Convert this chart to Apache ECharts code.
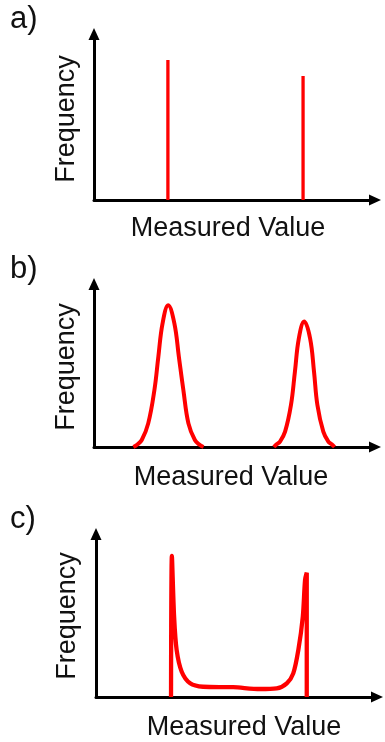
<!DOCTYPE html>
<html>
<head>
<meta charset="utf-8">
<script src="https://cdn.jsdelivr.net/npm/echarts@6/dist/echarts.min.js"></script>
<style>
  html, body { margin: 0; padding: 0; background: #fff; }
  #chart { width: 385px; height: 742px; }
</style>
</head>
<body>
<div id="chart"></div>
<script>
// a) two sharp lines: [x, height]
var linesA = [[26.3, 84.3], [74.4, 74.7]];

// b) two peaks
var peak1X = [14.0, 15.2, 17.0, 19.3, 21.5, 22.9, 24.4, 26.4, 28.6, 30.2, 31.8, 33.6, 35.9, 37.7, 39.0];
var peak1Y = [0, 1.2, 4.3, 14.5, 35.0, 55.4, 75.9, 87.0, 75.9, 55.4, 35.0, 14.5, 4.3, 1.2, 0];
var peak2X = [64.0, 65.0, 66.2, 68.0, 70.1, 71.5, 72.9, 74.8, 76.9, 78.3, 79.5, 81.6, 83.4, 84.6, 85.6];
var peak2Y = [0, 1.7, 3.3, 9.4, 25.8, 46.2, 66.7, 77.0, 66.7, 46.2, 25.8, 9.4, 3.3, 1.7, 0];

// c) U-shaped distribution
var curveCX = [26.7, 27.0, 27.8, 28.7, 30.5, 33.5, 38.1, 48.8, 58.4, 64.3, 67.9, 70.2, 72.0, 73.6, 74.4, 75.0, 75.0];
var curveCY = [0, 86.5, 49.1, 28.8, 15.5, 8.4, 6.3, 6.0, 4.9, 5.3, 8.4, 14.5, 28.8, 49.3, 71.8, 76.3, 0];

var panelLabels = ["a)", "b)", "c)"];
var xName = "Measured Value";
var yName = "Frequency";

function zip(xs, ys) {
  return xs.map(function (x, i) { return [x, ys[i]]; });
}

var RED = "#ff0000";
var grids = [
  { left: 94, top: 34, width: 281, height: 166 },
  { left: 94, top: 284, width: 281, height: 163 },
  { left: 96, top: 534, width: 281, height: 163 }
];

function axisBase(gi) {
  return {
    type: "value",
    gridIndex: gi,
    min: 0,
    max: 100,
    axisLine: {
      show: true,
      symbol: ["none", "triangle"],
      symbolSize: [11, 12],
      lineStyle: { color: "#000", width: 3 }
    },
    axisTick: { show: false },
    axisLabel: { show: false },
    splitLine: { show: false }
  };
}

var series = [];
linesA.forEach(function (l) {
  series.push({
    type: "line", xAxisIndex: 0, yAxisIndex: 0, symbol: "none",
    lineStyle: { color: RED, width: 3.3 },
    data: [[l[0], 0], [l[0], l[1]]]
  });
});
[zip(peak1X, peak1Y), zip(peak2X, peak2Y)].forEach(function (d) {
  series.push({
    type: "line", xAxisIndex: 1, yAxisIndex: 1, symbol: "none", smooth: 0.4,
    lineStyle: { color: RED, width: 4 },
    data: d
  });
});
series.push({
  type: "line", xAxisIndex: 2, yAxisIndex: 2, symbol: "none", smooth: 0.3,
  lineStyle: { color: RED, width: 4.3 },
  data: zip(curveCX, curveCY)
});

// text positions: [label x, label y, xName x, xName y, yName x, yName y]
var textPos = [
  [10, 19, 228, 228.5, 67, 119],
  [10, 269, 231, 478, 67, 367],
  [10, 519, 244, 728, 68, 616]
];
var graphic = [];
textPos.forEach(function (p, i) {
  var font = "27px 'Liberation Sans', Arial, sans-serif";
  graphic.push({ type: "text", x: p[0], y: p[1], style: { text: panelLabels[i], font: "31px 'Liberation Sans', Arial, sans-serif", fill: "#111", align: "left", verticalAlign: "middle" } });
  graphic.push({ type: "text", x: p[2], y: p[3], style: { text: xName, font: font, fill: "#111", align: "center", verticalAlign: "middle" } });
  graphic.push({ type: "text", x: p[4], y: p[5], rotation: Math.PI / 2, style: { text: yName, font: font, fill: "#111", align: "center", verticalAlign: "middle" } });
});

var chart = echarts.init(document.getElementById("chart"), null, { renderer: "canvas" });
chart.setOption({
  animation: false,
  backgroundColor: "#fff",
  grid: grids,
  xAxis: [axisBase(0), axisBase(1), axisBase(2)],
  yAxis: [axisBase(0), axisBase(1), axisBase(2)],
  series: series,
  graphic: graphic
});
</script>
</body>
</html>
